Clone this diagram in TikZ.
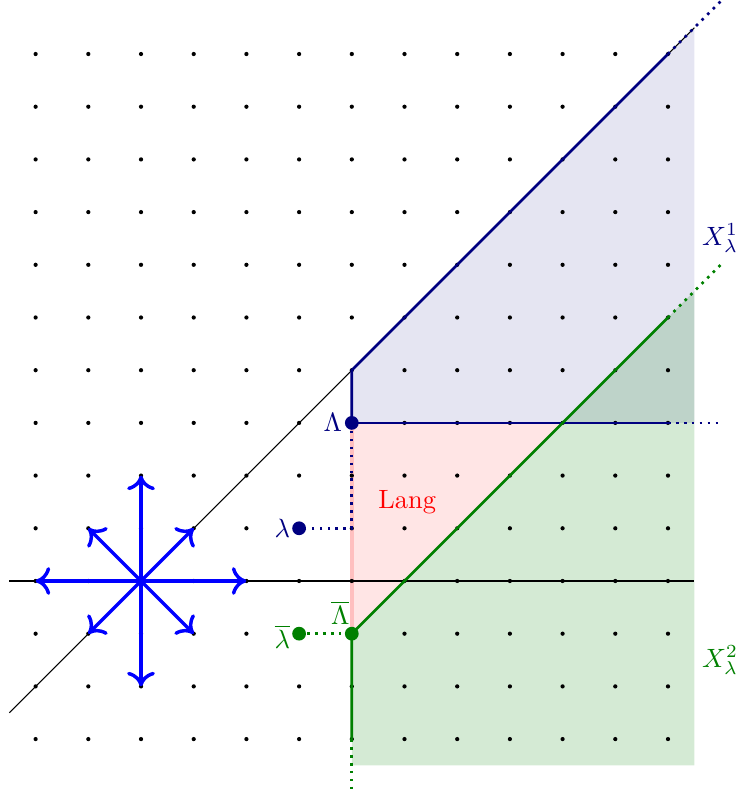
\documentclass[tikz,border=0pt]{standalone}
\usetikzlibrary{arrows.meta}
\definecolor{navyc}{rgb}{0,0,0.5}
\definecolor{greenc}{rgb}{0,0.5,0}
\begin{document}
\begin{tikzpicture}[x=0.7cm,y=0.7cm,
  gridpt/.style={fill=black},
  oneline/.style={navyc,line width=1pt},
  twoline/.style={greenc,line width=1pt},
  onedot/.style={navyc,line width=1pt,dotted},
  twodot/.style={greenc,line width=1pt,dotted},
  starrow/.style={blue,line width=1.3pt,-{Computer Modern Rightarrow[length=5.5pt,width=10.5pt]}},
  lbl/.style={inner sep=1pt}]
\useasboundingbox (-2.676,-4.156) rectangle (11.366,11.025);
% named coordinates
\coordinate (O) at (0,0);
\coordinate (L) at (4,3);
\coordinate (Lt) at (4,4);
\coordinate (Lb) at (4,-1);
\coordinate (l) at (3,1);
\coordinate (lm) at (4,1);
\coordinate (lb) at (3,-1);
% shaded regions
\fill[navyc,opacity=0.1] (4,3) -- (4,4) -- (10.5,10.5) -- (10.5,3) -- cycle;
\fill[greenc,opacity=0.17] (4,-3.5) -- (4,-1) -- (10.5,5.5) -- (10.5,-3.5) -- cycle;
\fill[red,opacity=0.1] (4,-1) -- (4,3) -- (8,3) -- cycle;
\draw[red!25,line width=1.3pt] (Lb) -- (L);
% grid of dots
\foreach \x in {-2,...,10}{\foreach \y in {-3,...,10}{\fill[gridpt] (\x,\y) circle (0.8pt);}}
% axes
\draw (-2.5,0) -- (10.5,0);
\draw (-2.5,-2.5) -- (10.5,10.5);
% star of arrows
\foreach \p in {(2,0),(-2,0),(0,2),(0,-2),(1,1),(-1,1),(1,-1),(-1,-1)}{\draw[starrow] (O) -- \p;}
% X^1
\coordinate (A1) at (10,10); \coordinate (A2) at (11,11);
\coordinate (B1) at (10,3); \coordinate (B2) at (11,3);
\draw[oneline] (L) -- (Lt) -- (A1);
\draw[oneline] (L) -- (B1);
\draw[onedot] (A1) -- (A2);
\draw[onedot] (B1) -- (B2);
% X^2
\coordinate (C1) at (10,5); \coordinate (C2) at (11,6);
\coordinate (D1) at (4,-3); \coordinate (D2) at (4,-4);
\draw[twoline] (D1) -- (Lb) -- (C1);
\draw[twodot] (C1) -- (C2);
\draw[twodot] (D1) -- (D2);
% dotted connectors
\draw[onedot] (L) -- (lm) -- (l);
\draw[twodot] (lb) -- (Lb);
% points
\fill[navyc] (L) circle (2.6pt);
\fill[navyc] (l) circle (2.6pt);
\fill[greenc] (lb) circle (2.6pt);
\fill[greenc] (Lb) circle (2.6pt);
% labels
\node[lbl,navyc] (tL) at (3.64,3) {$\Lambda$};
\node[lbl,navyc] (tl) at (2.68,1) {$\lambda$};
\node[lbl,greenc] (tlb) at (2.68,-1.05) {$\overline{\lambda}$};
\node[lbl,greenc] (tLb) at (3.78,-0.6) {$\overline{\Lambda}$};
\node[lbl,red] (lang) at (5.05,1.5) {Lang};
\node[lbl,navyc] (x1) at (10.99,6.5) {$X^1_\lambda$};
\node[lbl,greenc] (x2) at (10.99,-1.5) {$X^2_\lambda$};
\end{tikzpicture}
\end{document}
